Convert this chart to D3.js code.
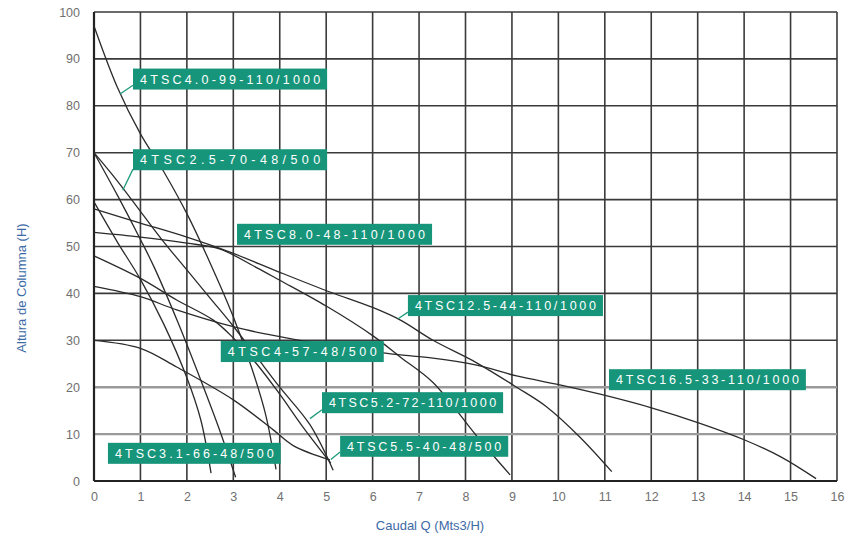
<!DOCTYPE html>
<html><head><meta charset="utf-8">
<script src="https://cdn.jsdelivr.net/npm/d3@7"></script>
<style>
html,body{margin:0;padding:0;background:#fff;}
svg{display:block;font-family:"Liberation Sans",Arial,sans-serif;}
</style></head>
<body><svg id="chart" width="860" height="544"></svg>
<script>
// ---- data ----
const xTicks = [0,1,2,3,4,5,6,7,8,9,10,11,12,13,14,15,16];
const yTicks = [0,10,20,30,40,50,60,70,80,90,100];

const curveA = [[0,97],[0.5,84],[1,74],[1.5,66],[2,57],[2.5,46.5],[3.0,35],[3.4,24],[3.7,14],[3.92,2.5]];
const curveB = [[0,70],[0.5,61],[1,51.5],[1.3,45.5],[1.8,34],[2.3,21.5],[2.7,11],[3.05,0.8]];
const curveC = [[0,70],[0.5,64],[1,57.5],[1.5,51],[2,45],[2.5,39],[3,33],[3.5,26.5],[4,20],[4.65,12],[5.15,2.3]];
const curveD = [[0,59.5],[0.5,51],[1,43],[1.5,33.5],[2,22],[2.3,13],[2.52,1.7]];
const curveE = [[0,58],[1,55],[2,52],[2.93,48.8],[4,44.5],[5.08,40.3],[6,37],[6.6,34.3],[7.3,30],[8.24,25.2],[9.1,20],[9.75,15.8],[10.46,9.4],[11.15,2]];
const curveF = [[0,53],[1,52],[2,50.7],[2.7,49.5],[3.5,45.5],[4,42.8],[5,37.3],[6,31],[6.6,26.4],[7.3,21],[8.24,9.6],[8.96,1.3]];
const curveG = [[0,48],[1,43.2],[1.78,38.6],[2.57,34.3],[3,30.5],[3.5,25],[4,18.5],[4.5,11.5],[5.1,3.8]];
const curveH = [[0,41.5],[1,39.3],[1.78,36.5],[3,32.9],[3.72,31.3],[5,29],[6,27.6],[6.6,26.9],[7.3,26.2],[8.24,24.7],[9.1,22.4],[10.03,20.5],[10.9,18.5],[12.04,15.5],[13.05,12.3],[14,8.8],[14.8,5.1],[15.55,0.5]];
const curveI = [[0,30],[1,28.3],[1.78,24.3],[3,17.3],[3.86,10.9],[4.3,7.5],[5.08,4.5]];

const series = [curveA,curveB,curveC,curveD,curveE,curveF,curveG,curveH,curveI];

const labelTexts = ["4TSC4.0-99-110/1000","4TSC2.5-70-48/500","4TSC8.0-48-110/1000","4TSC12.5-44-110/1000",
  "4TSC4-57-48/500","4TSC16.5-33-110/1000","4TSC5.2-72-110/1000","4TSC5.5-40-48/500","4TSC3.1-66-48/500"];
// label anchors in data units (left edge q, centre h, right edge q)
const labelLeft  = [0.84,0.84,3.08,6.76,2.73,11.09,4.91,5.30,0.30];
const labelMid   = [85.7,68.5,52.6,37.4,27.6,21.6,16.7,7.4,5.9];
const labelRight = [5.02,5.02,7.28,10.96,6.24,15.33,8.81,8.92,4.02];
// leader lines: [fromQ,fromH,toQ,toH]
const leaders = [[0.84,84.4,0.56,82.5],[0.84,66.5,0.62,62],[6.76,36.0,6.55,34.6],[4.91,15.2,4.65,13.3],[5.30,6.2,5.1,4.6]];

// ---- chart ----
const svg = d3.select("#chart");
const x = d3.scaleLinear().domain([0,16]).range([94,837]);
const y = d3.scaleLinear().domain([0,100]).range([481,12]);

const grid = svg.append("g");
grid.selectAll("line.v").data(xTicks.slice(1)).join("line")
  .attr("x1",d=>x(d)).attr("x2",d=>x(d)).attr("y1",y(0)).attr("y2",y(100))
  .attr("stroke","#3a3a3a").attr("stroke-width",1.6);
grid.selectAll("line.h").data(yTicks.slice(1)).join("line")
  .attr("x1",x(0)).attr("x2",x(16)).attr("y1",d=>y(d)).attr("y2",d=>y(d))
  .attr("stroke",d=>(d===10||d===20)?"#9a9a9a":"#3a3a3a")
  .attr("stroke-width",d=>(d===10||d===20)?2.4:1.6);

// axes
svg.append("line").attr("x1",x(0)).attr("x2",x(0)).attr("y1",y(0)).attr("y2",y(100)).attr("stroke","#222").attr("stroke-width",2.2);
svg.append("line").attr("x1",x(0)).attr("x2",x(16)).attr("y1",y(0)).attr("y2",y(0)).attr("stroke","#222").attr("stroke-width",2.2);

const xAxis = svg.append("g").attr("transform",`translate(0,${y(0)+6})`)
  .call(d3.axisBottom(x).tickValues(xTicks).tickSize(0).tickFormat(d3.format("d")));
xAxis.select(".domain").remove();
xAxis.selectAll("text").attr("fill","#707070").attr("font-size",12.5).attr("dy","0.9em")
  .attr("font-family","Liberation Sans, Arial, sans-serif");
const yAxis = svg.append("g").attr("transform",`translate(${x(0)-11},0)`)
  .call(d3.axisLeft(y).tickValues(yTicks).tickSize(0).tickFormat(d3.format("d")));
yAxis.select(".domain").remove();
yAxis.selectAll("text").attr("fill","#707070").attr("font-size",12.5)
  .attr("font-family","Liberation Sans, Arial, sans-serif");

// curves
const line = d3.line().x(d=>x(d[0])).y(d=>y(d[1])).curve(d3.curveCatmullRom.alpha(0.5));
svg.append("g").selectAll("path").data(series).join("path")
  .attr("d",line).attr("fill","none").attr("stroke","#2b2b2b").attr("stroke-width",1.3);

// leaders
svg.append("g").selectAll("line").data(leaders).join("line")
  .attr("x1",d=>x(d[0])).attr("y1",d=>y(d[1])).attr("x2",d=>x(d[2])).attr("y2",d=>y(d[3]))
  .attr("stroke","#1f9a7c").attr("stroke-width",1.3);

// labels
const lg = svg.append("g");
labelTexts.forEach((t,i)=>{
  const x0 = x(labelLeft[i]), x1 = x(labelRight[i]), yc = y(labelMid[i]);
  lg.append("rect").attr("x",x0).attr("y",yc-10.5).attr("width",x1-x0).attr("height",21)
    .attr("fill","#17957a");
  lg.append("text").attr("x",x0+7).attr("y",yc).attr("dy","0.36em")
    .attr("textLength",x1-x0-14).attr("lengthAdjust","spacing")
    .attr("fill","#fff").attr("font-size",12.5).text(t);
});

// titles
svg.append("text").attr("x",430).attr("y",530).attr("text-anchor","middle")
  .attr("fill","#3d6aa6").attr("font-size",13).text("Caudal Q (Mts3/H)");
svg.append("text").attr("transform","translate(26,288) rotate(-90)").attr("text-anchor","middle")
  .attr("fill","#3d6aa6").attr("font-size",13).text("Altura de Columna (H)");
</script></body></html>
